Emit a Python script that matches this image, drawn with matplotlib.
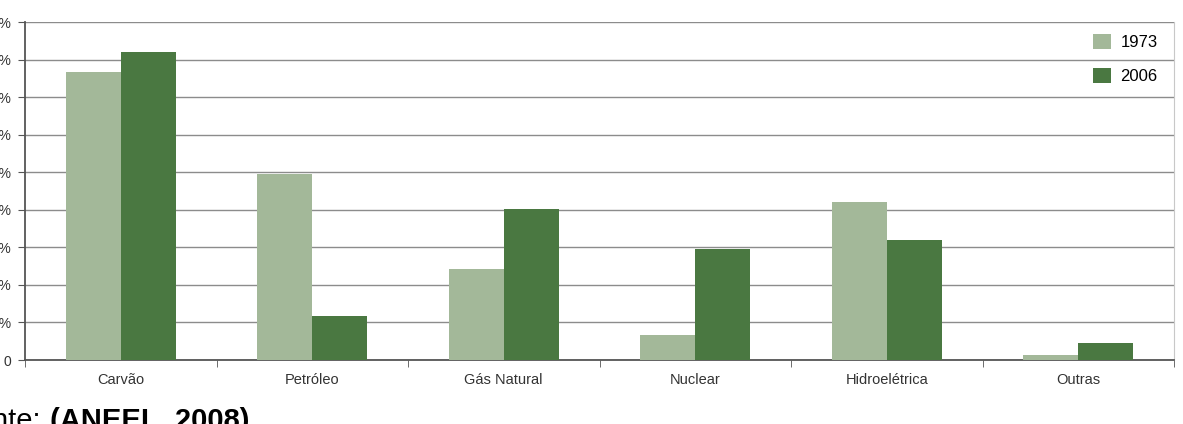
import numpy as np
import matplotlib.pyplot as plt

plt.rcParams['font.family'] = ['Liberation Sans', 'DejaVu Sans']

categories = ['Carvão', 'Petróleo', 'Gás Natural', 'Nuclear', 'Hidroelétrica', 'Outras']
share_1973 = [38.3, 24.8, 12.1, 3.3, 21.0, 0.6]
share_2006 = [41.0, 5.8, 20.1, 14.8, 16.0, 2.3]
yticks = [0, 5, 10, 15, 20, 25, 30, 35, 40, 45]
ytick_labels = ['0'] + [f'{v}%' for v in yticks[1:]]

fig = plt.figure(figsize=(11.83, 4.24), dpi=100)
ax = fig.add_axes([25 / 1183, 1 - 360 / 424, (1174 - 25) / 1183, (360 - 22) / 424])

x = np.arange(len(categories))
w = 0.287
ax.bar(x - w / 2, share_1973, w, color='#a3b899', label='1973', zorder=3)
ax.bar(x + w / 2, share_2006, w, color='#4a7841', label='2006', zorder=3)

ax.set_xlim(-0.5, len(categories) - 0.5)
ax.set_ylim(0, 45)
ax.set_yticks(yticks)
ax.set_yticklabels(ytick_labels, fontsize=10, color='#333333')
ax.tick_params(axis='y', length=5, color='#555555', pad=5)

# category labels centred, ticks between groups
ax.set_xticks(x)
ax.set_xticklabels(categories, fontsize=10.5, color='#333333')
ax.tick_params(axis='x', length=0, pad=9)
ax.set_xticks(np.arange(-0.5, len(categories) + 0.5), minor=True)
ax.tick_params(axis='x', which='minor', length=5, color='#555555')

ax.grid(axis='y', color='#8c8c8c', linewidth=1.0, zorder=0)
for side in ['left', 'bottom']:
    ax.spines[side].set_color('#555555')
    ax.spines[side].set_linewidth(1.3)
ax.spines['top'].set_visible(False)
ax.spines['right'].set_color('#c8c8c8')

ax.legend(loc='upper right', bbox_to_anchor=(0.996, 1.0), frameon=False,
          fontsize=12, handlelength=1.05, handleheight=1.05, labelspacing=1.05,
          handletextpad=0.6, borderaxespad=0.3)

fig.text(-41 / 1183, -0.012, 'Fonte:', fontsize=21, ha='left', va='baseline')
fig.text(50 / 1183, -0.012, '(ANEEL, 2008)', fontsize=21, fontweight='bold',
         ha='left', va='baseline')

fig.savefig('out.png', dpi=100)
